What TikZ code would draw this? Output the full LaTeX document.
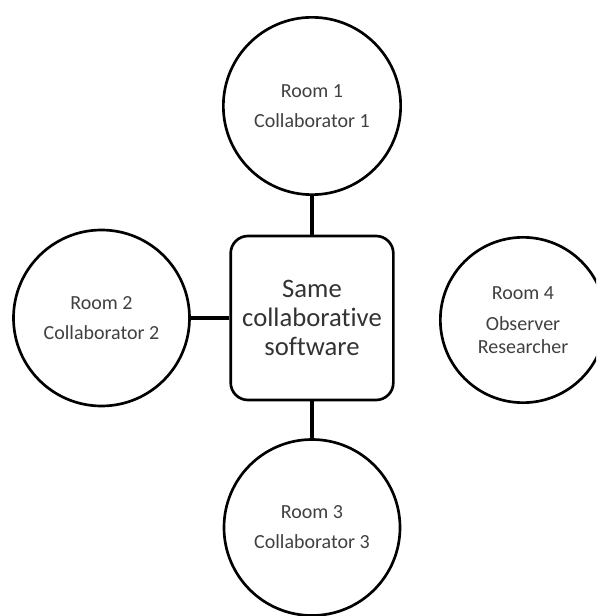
\documentclass[tikz,border=0pt]{standalone}
\usepackage{fontspec}
\setmainfont{Carlito}[Ligatures=NoCommon]

\begin{document}
\begin{tikzpicture}[x=0.75pt,y=0.75pt,yscale=-1,xscale=1,
    room/.style={draw,circle,line width=2pt,inner sep=0pt,align=center,
        font=\fontsize{15}{17}\selectfont,text=black!75},
    softbox/.style={draw,rounded corners=13pt,line width=2pt,inner sep=0pt,
        minimum width=122pt,minimum height=123pt,align=center,
        font=\fontsize{20}{22}\selectfont,text=black!80},
    link/.style={line width=3pt}]
                \clip (0,0) rectangle (596,616);
                \draw (312,318) node [softbox] (soft) {Same\\collaborative\\software};
                \draw (312,106) node [room,minimum size=133pt] (room1) {Room 1\\[5.5pt]Collaborator 1};
                \draw (101.5,318) node [room,minimum size=132pt] (room2) {Room 2\\[5.5pt]Collaborator 2};
                \draw (312,527.5) node [room,minimum size=132pt] (room3) {Room 3\\[5.5pt]Collaborator 3};
                \draw (523,320) node [room,minimum size=124pt] (room4) {Room 4\\[6pt]Observer\\Researcher};
                \draw [link]  (room1) -- (soft) ;
                \draw [link]  (room2) -- (soft) ;
                \draw [link]  (room3) -- (soft) ;
            \end{tikzpicture}
\end{document}
